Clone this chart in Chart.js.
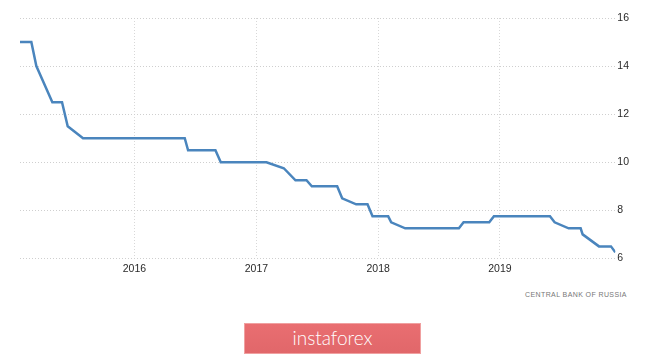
<!DOCTYPE html>
<html>
<head>
<meta charset="utf-8">
<script src="https://cdn.jsdelivr.net/npm/chart.js@4/dist/chart.umd.min.js"></script>
<style>
  body { margin: 0; background: #fff; }
  .wrap { position: relative; width: 665px; height: 354px; overflow: hidden; }
  .chart { position: absolute; left: 0; top: 0; width: 665px; height: 285px; }
  .source {
    position: absolute; left: 525px; top: 291px;
    font: 7px "Liberation Sans", Arial, sans-serif; letter-spacing: 0.4px; color: #777;
  }
  .logo {
    position: absolute; left: 244px; top: 323px; width: 177px; height: 31px;
    background: linear-gradient(#e96e71, #e1676a); border: 1px solid #f0a0a0; box-sizing: border-box;
    color: #fff; font: 300 19px Lato, "Open Sans", sans-serif; text-align: center; line-height: 28px;
  }
</style>
</head>
<body>
<div class="wrap">
  <div class="chart"><canvas id="rate"></canvas></div>
  <div class="source">CENTRAL BANK OF RUSSIA</div>
  <div class="logo">instaforex</div>
</div>
<script>
// key rate, vertices
const dates = [
  "2015-01-23", "2015-02-26", "2015-03-13", "2015-04-30", "2015-05-29", "2015-06-15",
  "2015-07-31", "2016-05-31", "2016-06-10", "2016-08-31", "2016-09-16", "2017-01-31",
  "2017-03-24", "2017-04-28", "2017-05-31", "2017-06-16", "2017-08-31", "2017-09-15",
  "2017-10-27", "2017-11-30", "2017-12-15", "2018-01-31", "2018-02-09", "2018-03-23",
  "2018-08-31", "2018-09-14", "2018-11-30", "2018-12-14", "2019-05-31", "2019-06-14",
  "2019-07-26", "2019-08-31", "2019-09-06", "2019-10-25", "2019-11-30", "2019-12-13",
];
const rates = [
  15, 15, 14, 12.5, 12.5, 11.5,
  11, 11, 10.5, 10.5, 10, 10,
  9.75, 9.25, 9.25, 9, 9, 8.5,
  8.25, 8.25, 7.75, 7.75, 7.5, 7.25,
  7.25, 7.5, 7.5, 7.75, 7.75, 7.5,
  7.25, 7.25, 7, 6.5, 6.5, 6.25,
];
const yearTicks = [2016, 2017, 2018, 2019];
const yMin = 6;
const yMax = 16;

const toTime = (s) => new Date(s + "T00:00:00Z").getTime();
const points = dates.map((d, i) => ({ x: toTime(d), y: rates[i] }));

const gridColor = "#cfcfcf";
const tickFont = { family: "Liberation Sans", size: 10.5 };

new Chart(document.getElementById("rate"), {
  type: "line",
  data: {
    datasets: [
      {
        data: points,
        borderColor: "#4a85bd",
        borderWidth: 2.5,
        pointRadius: 0,
        tension: 0,
        fill: false,
      },
    ],
  },
  options: {
    responsive: true,
    maintainAspectRatio: false,
    animation: false,
    layout: { padding: { left: 20, right: 34, top: 18, bottom: 6 } },
    plugins: { legend: false, tooltip: { enabled: false } },
    scales: {
      x: {
        type: "linear",
        min: points[0].x,
        max: points[points.length - 1].x,
        afterBuildTicks: (axis) => {
          axis.ticks = yearTicks.map((y) => ({ value: Date.UTC(y, 0, 1) }));
        },
        ticks: {
          color: "#2a2a2a",
          font: tickFont,
          padding: 4,
          maxRotation: 0,
          autoSkip: false,
          callback: (v) => new Date(v).getUTCFullYear(),
        },
        grid: { color: "#d8d8d8", drawTicks: false },
        border: { display: false, dash: [1, 2] },
      },
      y: {
        position: "right",
        min: yMin,
        max: yMax,
        ticks: { stepSize: 2, color: "#2a2a2a", font: tickFont, padding: 2 },
        grid: { color: gridColor, drawTicks: false },
        border: { display: false, dash: [1, 2] },
      },
    },
  },
});
</script>
</body>
</html>
